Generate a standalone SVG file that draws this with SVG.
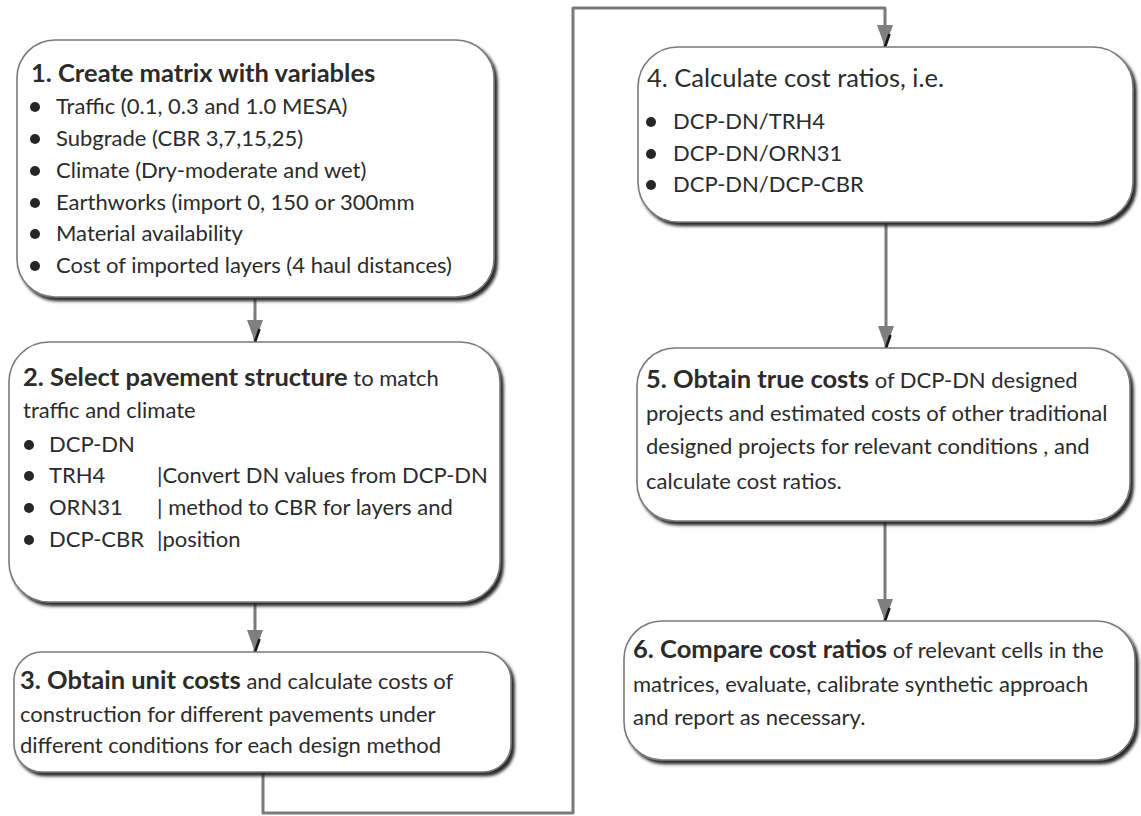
<svg xmlns="http://www.w3.org/2000/svg" width="1141" height="816" viewBox="0 0 1141 816">
<style>
.box{fill:#fff;stroke:#7a7a7a;stroke-width:1.6;filter:url(#sh)}
text{font-family:Lato,"Open Sans","Liberation Sans",sans-serif;font-size:22px;fill:#2b2b2b}
.b{font-weight:bold;font-size:25.5px}
.t{font-size:25.5px}
.dot{fill:#262626}
.con{fill:none;stroke:#7a7a7a;stroke-width:3;stroke-linejoin:round}
</style>
<defs>
<filter id="sh" x="-5%" y="-5%" width="112%" height="115%">
<feDropShadow dx="3" dy="3.5" stdDeviation="1.6" flood-color="#1e1e1e" flood-opacity="0.95"/>
</filter>
<marker id="ah" viewBox="0 0 22 16" markerUnits="userSpaceOnUse" markerWidth="22" markerHeight="16" refX="22" refY="8" orient="auto">
<path d="M0,0 L22,8 L0,16 Z" fill="#7f7f7f"/>
<path d="M9,3.5 L22,8" stroke="#151515" stroke-width="2.6"/>
</marker>
</defs>

<g id="connectors">
<path class="con" d="M255,298 L255,342" marker-end="url(#ah)"/>
<path class="con" d="M255,603 L255,652" marker-end="url(#ah)"/>
<path class="con" d="M263,773 L263,813 L573,813 L573,8 L885,8 L885,47" marker-end="url(#ah)"/>
<path class="con" d="M886,223 L886,348" marker-end="url(#ah)"/>
<path class="con" d="M885,522 L885,621" marker-end="url(#ah)"/>
</g>

<g id="node1">
<rect class="box" x="17" y="40" width="477" height="257" rx="38" ry="38"/>
<text x="31" y="82" class="b">1. Create matrix with variables</text>
<circle class="dot" cx="35" cy="107" r="5"/><text x="56" y="114">Traffic (0.1, 0.3 and 1.0 MESA)</text>
<circle class="dot" cx="35" cy="139" r="5"/><text x="56" y="146">Subgrade (CBR 3,7,15,25)</text>
<circle class="dot" cx="35" cy="171" r="5"/><text x="56" y="178">Climate (Dry-moderate and wet)</text>
<circle class="dot" cx="35" cy="203" r="5"/><text x="56" y="210">Earthworks (import 0, 150 or 300mm</text>
<circle class="dot" cx="35" cy="234" r="5"/><text x="56" y="241">Material availability</text>
<circle class="dot" cx="35" cy="266" r="5"/><text x="56" y="273">Cost of imported layers (4 haul distances)</text>
</g>

<g id="node2">
<rect class="box" x="9" y="342" width="491" height="260" rx="40" ry="40"/>
<text x="23" y="386"><tspan class="b">2. Select pavement structure</tspan> to match</text>
<text x="23" y="418">traffic and climate</text>
<circle class="dot" cx="29" cy="445" r="5"/><text x="49" y="452">DCP-DN</text>
<circle class="dot" cx="29" cy="476" r="5"/><text x="49" y="483">TRH4</text><text x="157" y="483">|Convert DN values from DCP-DN</text>
<circle class="dot" cx="29" cy="508" r="5"/><text x="49" y="515">ORN31</text><text x="157" y="515">| method to CBR for layers and</text>
<circle class="dot" cx="29" cy="540" r="5"/><text x="49" y="547">DCP-CBR</text><text x="157" y="547">|position</text>
</g>

<g id="node3">
<rect class="box" x="14" y="652" width="497" height="120" rx="28" ry="28"/>
<text x="20" y="689"><tspan class="b">3. Obtain unit costs</tspan> and calculate costs of</text>
<text x="20" y="722">construction for different pavements under</text>
<text x="20" y="753">different conditions for each design method</text>
</g>

<g id="node4">
<rect class="box" x="638" y="47" width="495" height="175" rx="40" ry="40"/>
<text x="647" y="87" class="t">4. Calculate cost ratios, i.e.</text>
<circle class="dot" cx="651" cy="122" r="5"/><text x="673" y="129">DCP-DN/TRH4</text>
<circle class="dot" cx="651" cy="154" r="5"/><text x="673" y="161">DCP-DN/ORN31</text>
<circle class="dot" cx="651" cy="185" r="5"/><text x="673" y="192">DCP-DN/DCP-CBR</text>
</g>

<g id="node5">
<rect class="box" x="637" y="348" width="493" height="173" rx="38" ry="38"/>
<text x="646" y="388"><tspan class="b">5. Obtain true costs</tspan> of DCP-DN designed</text>
<text x="646" y="421">projects and estimated costs of other traditional</text>
<text x="646" y="454">designed projects for relevant conditions , and</text>
<text x="646" y="489">calculate cost ratios.</text>
</g>

<g id="node6">
<rect class="box" x="624" y="621" width="511" height="139" rx="38" ry="38"/>
<text x="633" y="658"><tspan class="b">6. Compare cost ratios</tspan> of relevant cells in the</text>
<text x="633" y="692">matrices, evaluate, calibrate synthetic approach</text>
<text x="633" y="725">and report as necessary.</text>
</g>
</svg>
